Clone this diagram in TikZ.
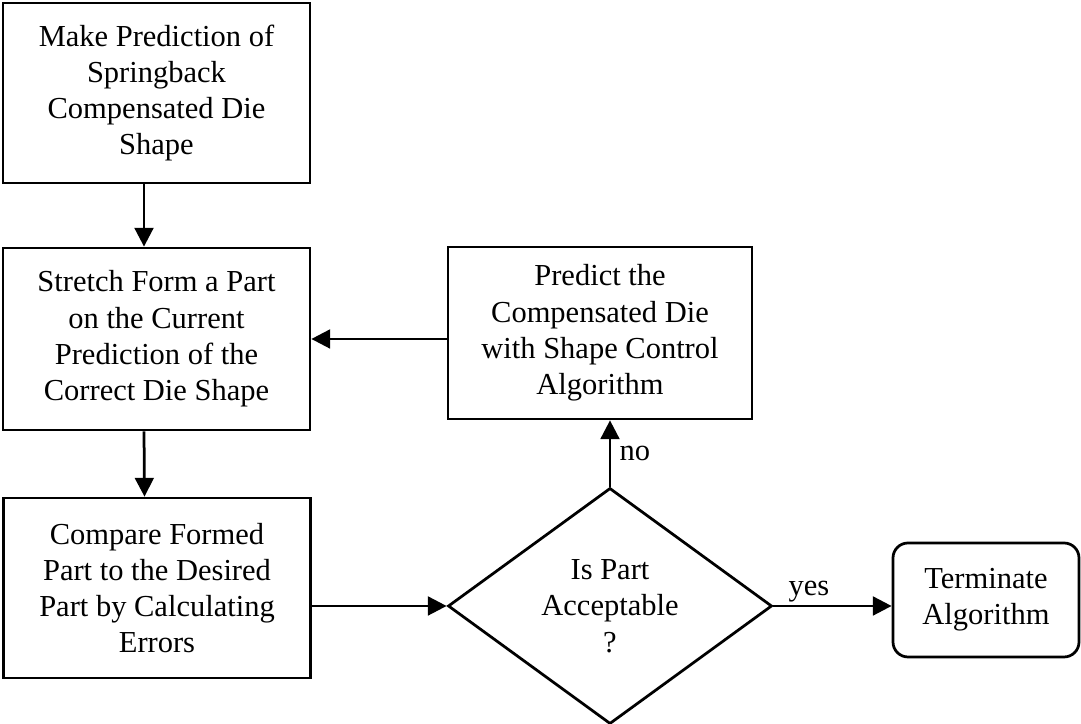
\documentclass[tikz,border=0pt]{standalone}
\usepackage{fontspec}
\setmainfont{Liberation Serif}
\usetikzlibrary{shapes.geometric, arrows.meta}

\begin{document}
\begin{tikzpicture}[x=0.4pt, y=0.4pt, font=\fontsize{12.2}{14.5}\selectfont]
% Définition des styles
\tikzset{
boite/.style={draw, line width=1.1pt, rectangle, minimum width=122.8pt, minimum height=72pt, align=center, inner sep=0pt},
choix/.style={boite, diamond, minimum width=129.6pt, minimum height=94.4pt},
fin/.style={boite, rounded corners=6pt, minimum width=74.4pt, minimum height=45.6pt},
fleche/.style={-{Triangle[length=7.5pt, width=7.5pt]}, line width=1.1pt}
}
\useasboundingbox (0,0) rectangle (1081,724);
% Prédiction initiale
\node[boite] (b1) at (156.5,631) {Make Prediction of\\Springback\\Compensated Die\\Shape};
% Emboutissage
\node[boite, minimum height=72.8pt] (b2) at (156.5,385) {Stretch Form a Part\\on the Current\\Prediction of the\\Correct Die Shape};
% Comparaison
\node[boite] (b3) at (157,136) {Compare Formed\\Part to the Desired\\Part by Calculating\\Errors};
% Nouvelle prédiction
\node[boite, minimum width=121.6pt, minimum height=68.8pt] (pred) at (600,391) {Predict the\\Compensated Die\\with Shape Control\\Algorithm};
% Test
\node[choix] (test) at (610,118) {Is Part\\Acceptable\\?};
% Fin
\node[fin] (stop) at (986,124) {Terminate\\Algorithm};
% Flèches
\draw[fleche] ([xshift=-5pt]b1.south) -- ([xshift=-5pt]b2.north);
\draw[fleche] ([xshift=-5pt]b2.south) -- ([xshift=-5pt]b3.north);
\draw[fleche] (test.west -| b3.east) -- (test.west);
\draw[fleche] (test.east) -- node[above, pos=0.3, inner sep=1pt] {yes} (test.east -| stop.west);
\draw[fleche] (test.north) -- node[right] {no} (test.north |- pred.south);
\draw[fleche] (pred.west |- b2.east) -- (b2.east);
\end{tikzpicture}
\end{document}
